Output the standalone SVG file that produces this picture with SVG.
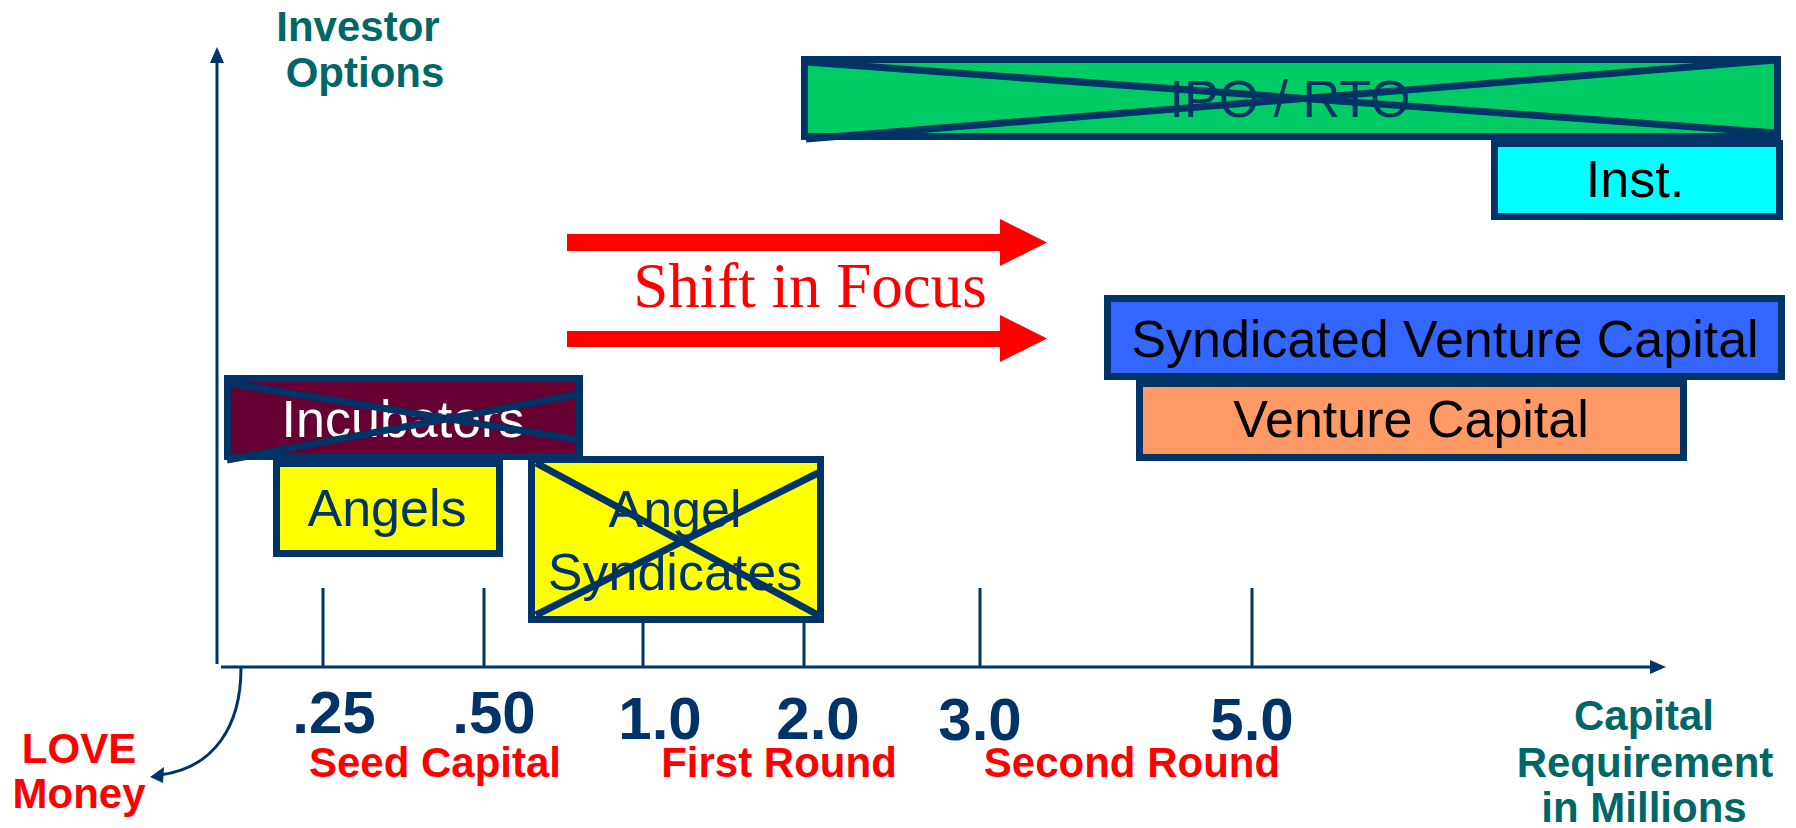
<svg xmlns="http://www.w3.org/2000/svg" width="1796" height="828" viewBox="0 0 1796 828">
<style>
.box{stroke:#003366;stroke-width:7}
.x{stroke:#003366;stroke-width:7;fill:none}
.t{font-family:"Liberation Sans",Arial,sans-serif;font-size:52px;text-anchor:middle}
.b{font-family:"Liberation Sans",Arial,sans-serif;font-weight:bold;text-anchor:middle}
.num{font-size:60px;fill:#003366}
.red{font-size:42px;fill:#FF0000}
.teal{font-size:42px;fill:#006666}
.ax{stroke:#003366;stroke-width:3;fill:none}
</style>
<defs>
<marker id="ah" viewBox="0 0 10 10" refX="9" refY="5" markerWidth="5" markerHeight="5" orient="auto" markerUnits="userSpaceOnUse">
<path d="M0,0 L10,5 L0,10 z" fill="#003366"/>
</marker>
</defs>
<rect width="1796" height="828" fill="#fff"/>
<g id="axes">
<line class="ax" x1="217" y1="664" x2="217" y2="60"/>
<path d="M217,47 L210,63 L224,63 z" fill="#003366"/>
<line class="ax" x1="221" y1="667" x2="1652" y2="667"/>
<path d="M1666,667 L1650,660 L1650,674 z" fill="#003366"/>
<line class="ax" x1="323" y1="588" x2="323" y2="667"/>
<line class="ax" x1="484" y1="588" x2="484" y2="667"/>
<line class="ax" x1="643" y1="588" x2="643" y2="667"/>
<line class="ax" x1="804" y1="588" x2="804" y2="667"/>
<line class="ax" x1="980" y1="588" x2="980" y2="667"/>
<line class="ax" x1="1252" y1="588" x2="1252" y2="667"/>
</g>
<g id="connectors">
<path d="M241,668 C241,725 215,768 160,775" stroke="#003366" stroke-width="3" fill="none"/>
<path d="M150,777 L164,767 L163,783 z" fill="#003366"/>
<path d="M567,234 H1000 V219 L1047,242.5 L1000,266 V251 H567 z" fill="#FF0000"/>
<path d="M567,331 H1000 V315 L1047,338.5 L1000,362 V347 H567 z" fill="#FF0000"/>
</g>
<g id="labels">
<text class="b teal" x="358" y="41">Investor</text>
<text class="b teal" x="365" y="87">Options</text>
<text x="810" y="307" font-family="'Liberation Serif','Times New Roman',serif" font-size="63" fill="#FF0000" text-anchor="middle">Shift in Focus</text>
<text class="b num" x="334" y="733">.25</text>
<text class="b num" x="494" y="733">.50</text>
<text class="b num" x="660" y="739">1.0</text>
<text class="b num" x="818" y="739">2.0</text>
<text class="b num" x="980" y="740">3.0</text>
<text class="b num" x="1252" y="740">5.0</text>
<text class="b red" x="435" y="777">Seed Capital</text>
<text class="b red" x="779" y="777">First Round</text>
<text class="b red" x="1132" y="777">Second Round</text>
<text class="b red" x="79" y="763">LOVE</text>
<text class="b red" x="79" y="808">Money</text>
<text class="b teal" x="1644" y="730">Capital</text>
<text class="b teal" x="1645" y="777">Requirement</text>
<text class="b teal" x="1644" y="822">in Millions</text>
</g>
<g id="ipo">
<rect class="box" x="804.5" y="59.5" width="973" height="77" fill="#00CC66"/>
<text class="t" x="1290" y="117" fill="#003366">IPO / RTO</text>
<line class="x" x1="806" y1="62" x2="1776" y2="133"/>
<line class="x" x1="806" y1="139" x2="1776" y2="60"/>
</g>
<g id="inst">
<rect class="box" x="1494.5" y="143.5" width="285" height="73" fill="#00FFFF"/>
<text class="t" x="1635" y="197" fill="#000">Inst.</text>
</g>
<g id="svc">
<rect class="box" x="1107.5" y="298.5" width="674" height="78" fill="#3366FF"/>
<text class="t" x="1445" y="357" fill="#000">Syndicated Venture Capital</text>
</g>
<g id="vc">
<rect class="box" x="1139.5" y="383.5" width="544" height="74" fill="#FF9966"/>
<text class="t" x="1411" y="437" fill="#000">Venture Capital</text>
</g>
<g id="incubators">
<rect class="box" x="227.5" y="378.5" width="352" height="78" fill="#660033"/>
<text class="t" x="403" y="437" fill="#fff">Incubators</text>
<line class="x" x1="227" y1="383" x2="580" y2="440"/>
<line class="x" x1="227" y1="460" x2="580" y2="394"/>
</g>
<g id="angels">
<rect class="box" x="276.5" y="463.5" width="223" height="90" fill="#FFFF00"/>
<text class="t" x="387" y="526" fill="#003366">Angels</text>
</g>
<g id="angel-syndicates">
<rect class="box" x="531.5" y="459.5" width="289" height="160" fill="#FFFF00"/>
<text class="t" x="675" y="527" fill="#003366">Angel</text>
<text class="t" x="675" y="590" fill="#003366">Syndicates</text>
<line class="x" x1="536" y1="463" x2="818" y2="615"/>
<line class="x" x1="536" y1="615" x2="818" y2="473"/>
</g>
</svg>
